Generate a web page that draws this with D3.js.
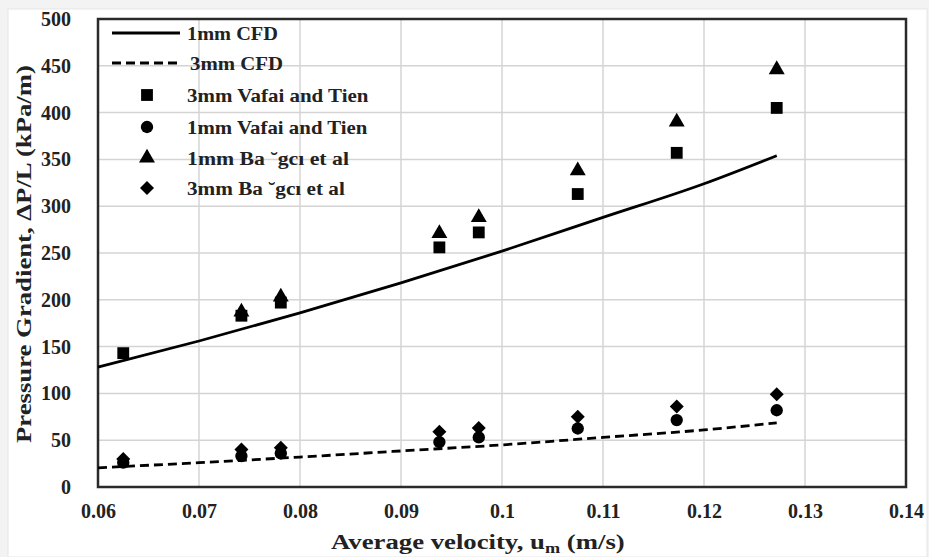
<!DOCTYPE html>
<html><head><meta charset="utf-8">
<script src="https://cdn.jsdelivr.net/npm/d3@7"></script>
<style>
body{margin:0;background:#f3f3f3;}
text{font-family:"Liberation Serif","Times New Roman",serif;font-weight:bold;fill:#222;}
</style></head>
<body><svg id="c" width="929" height="557"></svg>
<script>
// ---- data ----
const xTicks = [0.06,0.07,0.08,0.09,0.10,0.11,0.12,0.13,0.14];
const xTickLabels = ["0.06","0.07","0.08","0.09","0.1","0.11","0.12","0.13","0.14"];
const yTicks = [0,50,100,150,200,250,300,350,400,450,500];
const cfdX = [0.06,0.07,0.08,0.09,0.10,0.11,0.12,0.1272];
const cfd1mm = [128,156,186,218,252,288,324,354];
const cfd3mm = [20.5,26,32,38.5,45,53,61,68.5];
const expX = [0.0625,0.0742,0.0781,0.0938,0.0977,0.1075,0.1173,0.1272];
const vafai3mm = [143,183,197,256,272,313,357,405];
const vafai1mm = [26,33,36,48,53,62.5,71.5,82];
const bagci1mmX = [0.0742,0.0781,0.0938,0.0977,0.1075,0.1173,0.1272];
const bagci1mm = [187,203,271,288,338,390,446];
const bagci3mm = [30,40,42,59,63,75,86,99];
const legendLabels = ["1mm CFD","3mm CFD","3mm Vafai and Tien","1mm Vafai and Tien","1mm  Ba \u02d8gc\u0131 et al","3mm Ba \u02d8gc\u0131 et al"];

const svg = d3.select("#c");
svg.append("rect").attr("x",8).attr("y",9).attr("width",919).attr("height",548)
  .attr("fill","#fff").attr("stroke","#e6e6e6");
const L=98,R=906,T=19,B=487;
const x = d3.scaleLinear().domain([0.06,0.14]).range([L,R]);
const y = d3.scaleLinear().domain([0,500]).range([B,T]);

function fitW(sel, target, ax){
  const w = sel.node().getBBox().width;
  const k = target / w;
  sel.attr("transform", `translate(${ax},0) scale(${k},1) translate(${-ax},0)`);
}

// grid
const g = svg.append("g");
g.selectAll("line.vx").data(xTicks).join("line")
  .attr("x1",d=>x(d)).attr("x2",d=>x(d)).attr("y1",T).attr("y2",B)
  .attr("stroke","#d4d4d4").attr("stroke-width",1.5);
g.selectAll("line.hy").data(yTicks).join("line")
  .attr("y1",d=>y(d)).attr("y2",d=>y(d)).attr("x1",L).attr("x2",R)
  .attr("stroke","#d4d4d4").attr("stroke-width",1.5);

// axes labels
const xa = d3.axisBottom(x).tickValues(xTicks).tickFormat((d,i)=>xTickLabels[i]).tickSize(0).tickPadding(17);
const xg = svg.append("g").attr("transform",`translate(0,${B})`).call(xa);
const ya = d3.axisLeft(y).tickValues(yTicks).tickSize(0).tickPadding(27);
const yg = svg.append("g").attr("transform",`translate(${L},0)`).call(ya);
[xg,yg].forEach(a=>{a.select(".domain").remove();
  a.selectAll("text").style("font-size","20px").style("font-family","Liberation Serif").style("font-weight","bold").attr("fill","#222");});

// border
svg.append("rect").attr("x",L).attr("y",T).attr("width",R-L).attr("height",B-T)
  .attr("fill","none").attr("stroke","#2a2a2a").attr("stroke-width",2.5);

// lines
const line = d3.line().x(d=>x(d[0])).y(d=>y(d[1])).curve(d3.curveMonotoneX);
svg.append("path").datum(cfdX.map((v,i)=>[v,cfd1mm[i]])).attr("d",line)
  .attr("fill","none").attr("stroke","#000").attr("stroke-width",2.8);
svg.append("path").datum(cfdX.map((v,i)=>[v,cfd3mm[i]])).attr("d",line)
  .attr("fill","none").attr("stroke","#000").attr("stroke-width",2.8).attr("stroke-dasharray","9,5");

// markers
const diamondPath = "M0,-7L7,0L0,7L-7,0Z";
const sym = {
  square: d3.symbol().type(d3.symbolSquare).size(140)(),
  circle: d3.symbol().type(d3.symbolCircle).size(120)(),
  triangle: d3.symbol().type(d3.symbolTriangle).size(110)(),
  diamond: diamondPath
};
function pts(xs,ys,s){
  svg.append("g").selectAll("path").data(xs.map((v,i)=>[v,ys[i]])).join("path")
    .attr("d",sym[s]).attr("transform",d=>`translate(${x(d[0])},${y(d[1])})`).attr("fill","#000");
}
pts(expX,vafai3mm,"square");
pts(expX,vafai1mm,"circle");
pts(bagci1mmX,bagci1mm,"triangle");
pts(expX,bagci3mm,"diamond");

// legend
const lg = svg.append("g");
const ly = [33,63,95,127,158,188];
const lx = [187,190,187,187,187,187];
const lw = [91,93,182,181,162,158];
lg.append("line").attr("x1",112).attr("x2",180).attr("y1",ly[0]).attr("y2",ly[0]).attr("stroke","#000").attr("stroke-width",2.8);
lg.append("line").attr("x1",112).attr("x2",182).attr("y1",ly[1]).attr("y2",ly[1]).attr("stroke","#000").attr("stroke-width",2.8).attr("stroke-dasharray","9,5");
["square","circle","triangle","diamond"].forEach((s,i)=>{
  lg.append("path").attr("d",sym[s]).attr("transform",`translate(147,${ly[i+2]})`).attr("fill","#000");
});
legendLabels.forEach((t,i)=>{
  const tx = lg.append("text").attr("x",lx[i]).attr("y",ly[i]+7).text(t).style("font-size","19px");
  fitW(tx, lw[i], lx[i]);
});

// axis titles
const xt = svg.append("text").attr("x",331).attr("y",549).style("font-size","22px");
xt.append("tspan").text("Average velocity, u");
xt.append("tspan").text("m").attr("dy",4).style("font-size","15px");
xt.append("tspan").text(" (m/s)").attr("dy",-4);
fitW(xt, 294, 331);
const ytg = svg.append("g").attr("transform","translate(31,443) rotate(-90)");
const ytt = ytg.append("text").attr("x",0).attr("y",0).style("font-size","22px").text("Pressure Gradient, \u0394P/L (kPa/m)");
fitW(ytt, 378, 0);
</script></body></html>
